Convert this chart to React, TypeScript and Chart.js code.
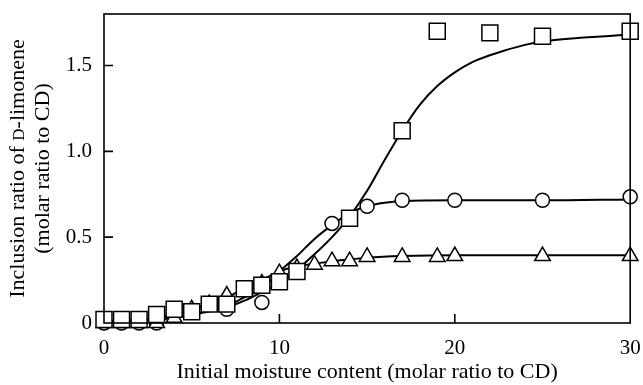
import React, { useEffect, useRef } from "react";
import { Chart, registerables } from "chart.js";

Chart.register(...registerables);

// Measured inclusion ratios (molar ratio to CD) against initial moisture content
const squareX = [0, 1, 2, 3, 4, 5, 6, 7, 8, 9, 10, 11, 14, 17, 19, 22, 25, 30];
const squareY = [0.02, 0.02, 0.02, 0.05, 0.08, 0.065, 0.11, 0.11, 0.2, 0.22, 0.24, 0.3, 0.61, 1.12, 1.7, 1.69, 1.67, 1.7];

const circleX = [0, 1, 2, 3, 7, 9, 13, 15, 17, 20, 25, 30];
const circleY = [0.0, 0.0, 0.0, 0.0, 0.08, 0.12, 0.58, 0.68, 0.715, 0.715, 0.715, 0.735];

const triangleX = [0, 1, 2, 3, 4, 5, 6, 7, 9, 10, 11, 12, 13, 14, 15, 17, 19, 20, 25, 30];
const triangleY = [0.0, 0.0, 0.0, 0.0, 0.03, 0.08, 0.11, 0.16, 0.23, 0.29, 0.32, 0.34, 0.36, 0.36, 0.385, 0.385, 0.385, 0.39, 0.39, 0.39];

// Fitted curves drawn through each series
const squareFitX = [0, 3, 5, 7, 8, 9, 10, 11, 12, 13, 14, 15, 16, 17, 18, 19, 20, 21, 22, 24, 25, 27, 30];
const squareFitY = [0.01, 0.02, 0.05, 0.09, 0.13, 0.18, 0.23, 0.31, 0.4, 0.5, 0.62, 0.77, 0.95, 1.12, 1.27, 1.38, 1.46, 1.52, 1.56, 1.62, 1.64, 1.66, 1.68];

const circleFitX = [0, 3, 5, 7, 8, 9, 10, 11, 12, 13, 14, 15, 16, 17, 20, 25, 30];
const circleFitY = [0.01, 0.02, 0.05, 0.1, 0.15, 0.2, 0.3, 0.39, 0.49, 0.57, 0.64, 0.68, 0.7, 0.71, 0.715, 0.715, 0.72];

const triangleFitX = [0, 3, 5, 7, 8, 9, 10, 11, 12, 13, 14, 15, 17, 20, 25, 30];
const triangleFitY = [0.01, 0.03, 0.08, 0.15, 0.2, 0.25, 0.3, 0.33, 0.345, 0.36, 0.37, 0.38, 0.39, 0.395, 0.395, 0.395];

const xTicks = [0, 10, 20, 30];
const yTicks = [0, 0.5, 1.0, 1.5];

const xTitle = "Initial moisture content (molar ratio to CD)";
// Each entry: text piece and whether it is set in small capitals
const yTitleLine1: [string, boolean][] = [
  ["Inclusion ratio of ", false],
  ["D", true],
  ["-limonene", false],
];
const yTitleLine2: [string, boolean][] = [["(molar ratio to CD)", false]];

const FONT = "'Liberation Serif', 'DejaVu Serif', serif";
const TICK_SIZE = 21;
const TITLE_SIZE = 22;

const zip = (xs: number[], ys: number[]) => xs.map((x, i) => ({ x, y: ys[i] }));

// Box frame with inward tick marks
const framePlugin = {
  id: "frame",
  afterDatasetsDraw(chart: any) {
    const { ctx, chartArea } = chart;
    const { left, right, top, bottom } = chartArea;
    const xs = chart.scales.x;
    const ys = chart.scales.y;
    ctx.save();
    ctx.strokeStyle = "#000";
    ctx.lineWidth = 1.6;
    ctx.strokeRect(left, top, right - left, bottom - top);
    ctx.beginPath();
    for (const v of xTicks) {
      if (v === xs.min || v === xs.max) continue;
      const px = xs.getPixelForValue(v);
      ctx.moveTo(px, bottom);
      ctx.lineTo(px, bottom - 9);
    }
    for (const v of yTicks) {
      if (v === ys.min) continue;
      const py = ys.getPixelForValue(v);
      ctx.moveTo(left, py);
      ctx.lineTo(left + 9, py);
    }
    ctx.stroke();
    ctx.restore();
  },
};

const drawRotatedLine = (ctx: CanvasRenderingContext2D, parts: [string, boolean][], x: number, cy: number) => {
  const fontFor = (small: boolean) => `${small ? Math.round(TITLE_SIZE * 0.78) : TITLE_SIZE}px ${FONT}`;
  let total = 0;
  const widths = parts.map(([t, small]) => {
    ctx.font = fontFor(small);
    const w = ctx.measureText(t).width;
    total += w;
    return w;
  });
  ctx.save();
  ctx.translate(x, cy);
  ctx.rotate(-Math.PI / 2);
  ctx.textBaseline = "alphabetic";
  ctx.textAlign = "left";
  let pos = -total / 2;
  parts.forEach(([t, small], i) => {
    ctx.font = fontFor(small);
    ctx.fillText(t, pos, TITLE_SIZE * 0.33);
    pos += widths[i];
  });
  ctx.restore();
};

const yTitlePlugin = {
  id: "yTitle",
  afterDraw(chart: any) {
    const { ctx, chartArea } = chart;
    const cy = (chartArea.top + chartArea.bottom) / 2;
    ctx.save();
    ctx.fillStyle = "#000";
    drawRotatedLine(ctx, yTitleLine1, 17, cy);
    drawRotatedLine(ctx, yTitleLine2, 42, cy);
    ctx.restore();
  },
};

const noPadding = (s: any) => {
  s.paddingLeft = 0;
  s.paddingRight = 0;
  s.paddingTop = 0;
  s.paddingBottom = 0;
};

export default function App() {
  const canvasRef = useRef<HTMLCanvasElement | null>(null);

  useEffect(() => {
    if (!canvasRef.current) return;
    const marker = {
      backgroundColor: "#fff",
      borderColor: "#000",
      borderWidth: 1.5,
      showLine: false,
      clip: false as const,
    };
    const fit = {
      showLine: true,
      borderColor: "#000",
      borderWidth: 2,
      pointRadius: 0,
      cubicInterpolationMode: "monotone" as const,
      fill: false,
      clip: false as const,
      order: 10,
    };
    const chart = new Chart(canvasRef.current, {
      type: "scatter",
      data: {
        datasets: [
          { ...marker, data: zip(squareX, squareY), pointStyle: "rect", pointRadius: 11.3, order: 0 },
          { ...marker, data: zip(triangleX, triangleY), pointStyle: "triangle", pointRadius: 9, order: 1 },
          { ...marker, data: zip(circleX, circleY), pointStyle: "circle", pointRadius: 7, order: 2 },
          { ...fit, data: zip(squareFitX, squareFitY) },
          { ...fit, data: zip(circleFitX, circleFitY) },
          { ...fit, data: zip(triangleFitX, triangleFitY) },
        ] as any,
      },
      options: {
        animation: false,
        responsive: true,
        maintainAspectRatio: false,
        events: [],
        layout: { padding: { top: 14, right: 11, left: 0, bottom: 0 } },
        plugins: { legend: { display: false }, tooltip: { enabled: false } },
        scales: {
          x: {
            type: "linear",
            min: 0,
            max: 30,
            grid: { display: false },
            border: { display: false },
            afterBuildTicks: (s: any) => {
              s.ticks = xTicks.map((v) => ({ value: v }));
            },
            afterFit: (s: any) => {
              s.height = 62;
              noPadding(s);
            },
            ticks: {
              color: "#000",
              font: { family: FONT, size: TICK_SIZE },
              padding: 5,
              maxRotation: 0,
              callback: (v: any) => String(v),
            },
            title: {
              display: true,
              text: xTitle,
              color: "#000",
              font: { family: FONT, size: TITLE_SIZE },
              padding: { top: 0, bottom: 0 },
            },
          },
          y: {
            type: "linear",
            min: 0,
            max: 1.8,
            grid: { display: false },
            border: { display: false },
            afterBuildTicks: (s: any) => {
              s.ticks = yTicks.map((v) => ({ value: v }));
            },
            afterFit: (s: any) => {
              s.width = 104;
              noPadding(s);
            },
            ticks: {
              color: "#000",
              font: { family: FONT, size: TICK_SIZE },
              padding: 4,
              callback: (v: any) => (Number(v) === 0 ? "0" : Number(v).toFixed(1)),
            },
          },
        },
      },
      plugins: [framePlugin, yTitlePlugin],
    });
    return () => chart.destroy();
  }, []);

  return (
    <div style={{ position: "fixed", left: 0, top: 0, width: 643, height: 385, background: "#fff" }}>
      <canvas ref={canvasRef} />
    </div>
  );
}
